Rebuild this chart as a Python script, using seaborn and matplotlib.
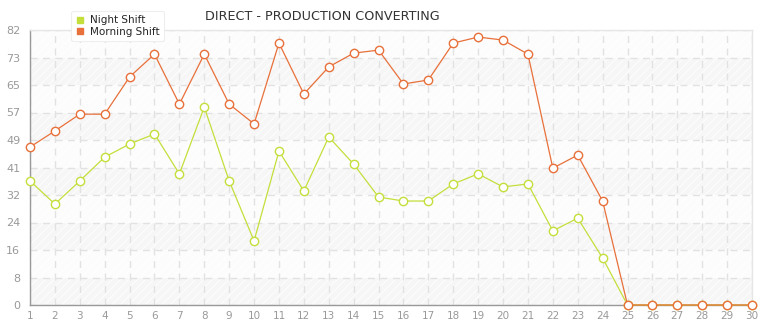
import numpy as np
import pandas as pd
import matplotlib
matplotlib.use("Agg")
import matplotlib.pyplot as plt
import seaborn as sns
from matplotlib.lines import Line2D

days = list(range(1, 31))
night_shift = [37.0, 30.1, 37.0, 44.1, 48.0, 51.0, 39.1, 59.0, 37.0, 19.1,
               45.9, 34.0, 50.1, 42.0, 32.2, 31.0, 31.0, 36.1, 39.1, 35.2,
               36.1, 22.1, 25.9, 14.0, 0, 0, 0, 0, 0, 0]
morning_shift = [47.1, 51.9, 56.9, 56.9, 68.0, 74.8, 59.9, 74.8, 59.9, 54.0,
                 78.1, 62.9, 71.0, 75.1, 76.0, 65.9, 67.1, 78.1, 79.9, 79.0,
                 74.8, 40.8, 44.7, 31.0, 0, 0, 0, 0, 0, 0]
series_names = ["Night Shift", "Morning Shift"]
series_colors = ["#c4df3b", "#e8703a"]
y_tick_labels = ["0", "8", "16", "24", "32", "41", "49", "57", "65", "73", "82"]
y_max = 82
title = "DIRECT - PRODUCTION CONVERTING"

df = pd.DataFrame({
    "day": days * 2,
    "value": night_shift + morning_shift,
    "series": [series_names[0]] * len(days) + [series_names[1]] * len(days),
})

sns.set_theme(style="white")
plt.rcParams["font.family"] = ["DejaVu Sans"]
matplotlib.rcParams["hatch.color"] = "#ededed"
matplotlib.rcParams["hatch.linewidth"] = 0.6

fig = plt.figure(figsize=(7.65, 3.2), dpi=100)
ax = fig.add_axes([30 / 765, 15 / 320, 722 / 765, 275 / 320])

ytick_pos = [y_max * k / 10 for k in range(11)]
for k in range(10):
    lo, hi = ytick_pos[k], ytick_pos[k + 1]
    ax.axhspan(lo, hi, facecolor="#f6f6f6" if k % 2 == 0 else "#fcfcfc",
               hatch="////", linewidth=0, zorder=0)

sns.lineplot(data=df, x="day", y="value", hue="series", palette=series_colors,
             marker="o", markersize=6, markerfacecolor="white",
             markeredgewidth=1.0, linewidth=0.9, ax=ax, legend=False, zorder=3)
for line, c in zip(ax.lines, series_colors):
    line.set_markeredgecolor(c)
    line.set_clip_on(False)

ax.set_xlim(1, 30)
ax.set_ylim(0, y_max)
ax.set_xticks(days)
ax.set_xticklabels([str(d) for d in days])
ax.set_yticks(ytick_pos)
ax.set_yticklabels(y_tick_labels)
ax.set_xlabel("")
ax.set_ylabel("")
ax.tick_params(axis="y", colors="#999999", labelsize=8, length=5, width=0.8,
               pad=2)
ax.tick_params(axis="x", colors="#999999", labelsize=7.5, length=3, width=0.8,
               pad=1)
ax.grid(True, color="#e2e2e2", linestyle=(0, (5, 4)), linewidth=1.0, zorder=1)
ax.set_axisbelow(True)
for s in ["top", "right"]:
    ax.spines[s].set_color("#e6e6e6")
    ax.spines[s].set_linewidth(1.0)
for s in ["left", "bottom"]:
    ax.spines[s].set_color("#999999")
    ax.spines[s].set_linewidth(1.0)

fig.text(322 / 765, 1 - 17 / 320, title, ha="center", va="center",
         fontsize=9.2, color="#333333")

handles = [Line2D([0], [0], marker="s", linestyle="none", markersize=5,
                  markerfacecolor=c, markeredgecolor=c) for c in series_colors]
leg = fig.legend(handles, series_names, loc="upper left",
                 bbox_to_anchor=(66 / 765, 1 - 6 / 320), fontsize=7.5,
                 frameon=True, fancybox=True, framealpha=1, handlelength=0.8,
                 handletextpad=0.6, labelspacing=0.15, borderpad=0.4,
                 edgecolor="#eeeeee", shadow=False)
leg.get_frame().set_linewidth(0.8)
leg.set_zorder(10)

fig.savefig("out.png", dpi=100)
